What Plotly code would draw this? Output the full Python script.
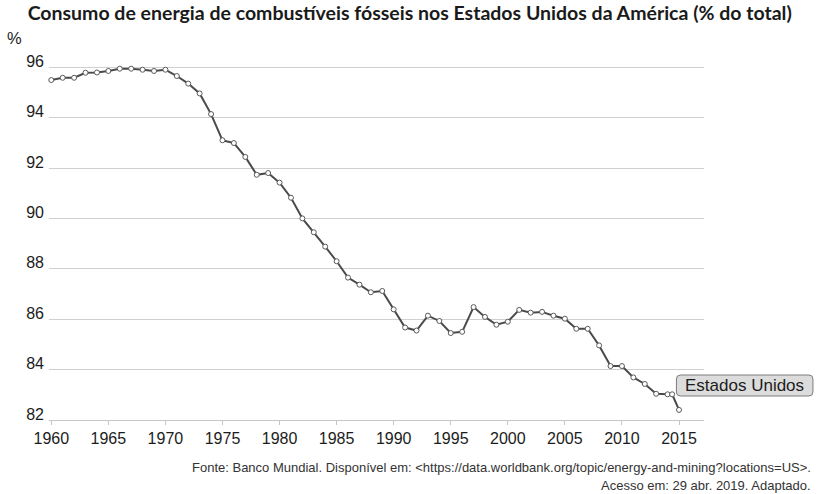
import plotly.graph_objects as go

# Data
years = list(range(1960, 2015)) + [2014.4, 2015]
values = [
    95.49, 95.58, 95.58, 95.78, 95.79, 95.85, 95.94, 95.94, 95.90, 95.85,  # 1960-1969
    95.90, 95.65, 95.35, 94.96, 94.14, 93.10, 92.99, 92.44, 91.73, 91.80,  # 1970-1979
    91.42, 90.82, 90.00, 89.45, 88.88, 88.30, 87.65, 87.37, 87.07, 87.12,  # 1980-1989
    86.39, 85.67, 85.55, 86.14, 85.93, 85.45, 85.50, 86.48, 86.09, 85.78,  # 1990-1999
    85.90, 86.37, 86.26, 86.29, 86.14, 86.02, 85.62, 85.62, 84.96, 84.14,  # 2000-2009
    84.14, 83.69, 83.43, 83.04, 83.02, 83.02, 82.40,                       # 2010-2015
]
series_name = "Estados Unidos"
x_ticks = [1960, 1965, 1970, 1975, 1980, 1985, 1990, 1995, 2000, 2005, 2010, 2015]
y_ticks = [82, 84, 86, 88, 90, 92, 94, 96]

title_text = "Consumo de energia de combustíveis fósseis nos Estados Unidos da América (% do total)"
source_line1 = "Fonte: Banco Mundial. Disponível em: &lt;https://data.worldbank.org/topic/energy-and-mining?locations=US&gt;."
source_line2 = "Acesso em: 29 abr. 2019. Adaptado."

TXT = "#1c1c1c"

# plot-area geometry (pixels) used to place decorations in paper coordinates
PL, PW, PB, PH = 49, 655.3, 420, 365


def px(x):
    return (x - PL) / PW


def py(y):
    return (PB - y) / PH


# rounded label box
bx0, bx1, by0, by1, r = px(676.7), px(813.3), py(396), py(375), 4
rx, ry = r / PW, r / PH
box_path = (
    f"M {bx0+rx},{by1} L {bx1-rx},{by1} Q {bx1},{by1} {bx1},{by1-ry} "
    f"L {bx1},{by0+ry} Q {bx1},{by0} {bx1-rx},{by0} "
    f"L {bx0+rx},{by0} Q {bx0},{by0} {bx0},{by0+ry} "
    f"L {bx0},{by1-ry} Q {bx0},{by1} {bx0+rx},{by1} Z"
)

fig = go.Figure()
fig.add_trace(go.Scatter(
    x=years, y=values, name=series_name, mode="lines+markers",
    line=dict(color="#4a4a4a", width=2),
    marker=dict(size=5, color="white", line=dict(color="#5a5a5a", width=1)),
    showlegend=False, cliponaxis=False, hoverinfo="skip",
))

fig.update_layout(
    width=823, height=494,
    margin=dict(l=49, r=118.7, t=55, b=74),
    paper_bgcolor="white", plot_bgcolor="white",
    font=dict(family="Liberation Sans, Arial, sans-serif", size=16, color=TXT),
    title=dict(
        text="<b>" + title_text + "</b>",
        x=409.7 / 823, xanchor="center", xref="container",
        y=1 - 13.5 / 494, yanchor="middle",
        font=dict(family="Lato, sans-serif", size=19.5, color="#1a1a1a"),
    ),
    xaxis=dict(
        range=[1959.80, 2017.19], tickvals=x_ticks, ticktext=[str(t) for t in x_ticks],
        showgrid=False, zeroline=False,
        showline=True, linecolor="#c6c6c6", linewidth=1,
        ticks="outside", ticklen=4, tickcolor="#c6c6c6", tickwidth=1,
        tickfont=dict(size=16, color=TXT),
    ),
    yaxis=dict(
        range=[82, 96.484], tickvals=y_ticks, ticktext=[str(t) for t in y_ticks],
        showgrid=True, gridcolor="#d0d0d0", gridwidth=1,
        zeroline=False, showline=False, ticks="",
        tickfont=dict(size=16, color=TXT),
        ticklabelshift=-6, ticklabelstandoff=4,
    ),
    shapes=[
        dict(type="path", xref="paper", yref="paper", path=box_path,
             fillcolor="#dcdcdc", line=dict(color="#7c7c7c", width=1), layer="above"),
    ],
    annotations=[
        dict(text="%", xref="paper", yref="paper", x=px(14.7), y=py(38),
             xanchor="center", yanchor="middle", showarrow=False,
             font=dict(size=16.5, color=TXT)),
        dict(text=series_name, xref="paper", yref="paper",
             x=px(745), y=py(385.5),
             xanchor="center", yanchor="middle", showarrow=False,
             font=dict(size=17, color=TXT)),
        dict(text=source_line1, xref="paper", yref="paper",
             x=px(813), y=py(468),
             xanchor="right", yanchor="middle", showarrow=False,
             font=dict(family="Liberation Sans Narrow, Arial Narrow, sans-serif", size=13, color="#333333")),
        dict(text=source_line2, xref="paper", yref="paper",
             x=px(813), y=py(485),
             xanchor="right", yanchor="middle", showarrow=False,
             font=dict(family="Liberation Sans Narrow, Arial Narrow, sans-serif", size=13, color="#333333")),
    ],
)

fig.write_html(
    "out.html",
    config={"displayModeBar": False},
    post_script="document.body.style.margin='0';document.body.style.overflow='hidden';",
)
